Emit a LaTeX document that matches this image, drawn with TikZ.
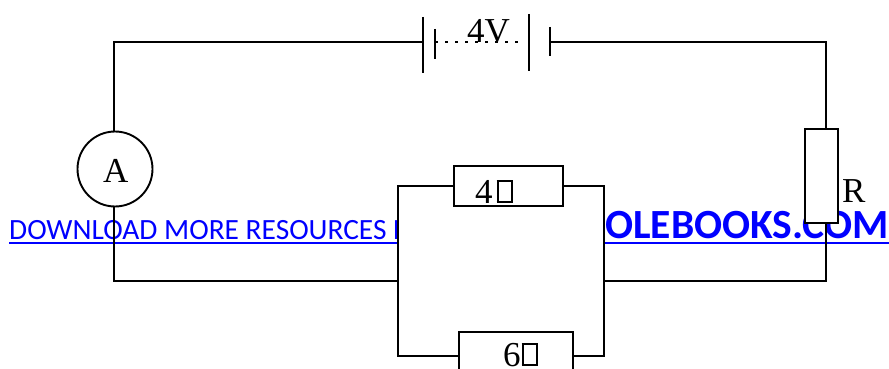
\documentclass[tikz,border=0pt]{standalone}
\usepackage{fontspec}
\setmainfont{Liberation Serif}
\newfontfamily\linkfont{Carlito}
\definecolor{linkblue}{HTML}{0000FF}
\newcommand{\tofu}[2]{{\setlength{\fboxsep}{0pt}\setlength{\fboxrule}{1.8pt}\raisebox{2pt}{\fbox{\rule{0pt}{#2}\rule{#1}{0pt}}}}}
\tikzset{
  wire/.style={draw=black,line width=1.9pt,line join=miter},
  res/.style={draw=black,fill=white,line width=1.9pt,rectangle,inner sep=0pt,minimum width=#1},
  val/.style={font=\fontsize{35}{35}\selectfont,inner sep=0pt,anchor=base west,text=black},
  link/.style={text=linkblue,inner sep=0pt,anchor=base west},
}
\begin{document}
\begin{tikzpicture}[x=1pt,y=-1pt]
\useasboundingbox (0,0) rectangle (889,369);
\clip (0,0) rectangle (889,369);
% link text behind the circuit
\begin{scope}
\clip (0,200) rectangle (398,260);
\node[link,font=\linkfont\fontsize{29.4}{29.4}\selectfont] (dl) at (9,239.5) {DOWNLOAD MORE RESOURCES L};
\end{scope}
\begin{scope}
\clip (604,200) rectangle (889,260);
\node[link,font=\linkfont\bfseries\fontsize{41.5}{41.5}\selectfont,anchor=base east] (ole) at (889,238) {OLEBOOKS.COM};
\end{scope}
\fill[linkblue] (9,241.8) rectangle (398,244.2);
\fill[linkblue] (604,241.8) rectangle (889,244.4);
% components
\node[circle,draw=black,fill=white,line width=1.9pt,inner sep=0pt,minimum size=75pt] (amm) at (115,169) {};
\node[val] (ammt) at (103,182) {A};
\node[res=33pt,minimum height=94pt] (rr) at (821.5,176) {};
\node[val] (rt) at (842,202) {R};
\node[res=109pt,minimum height=40pt] (r4) at (508.5,186) {};
\node[res=114pt,minimum height=48pt] (r6) at (516,356) {};
\node[val] (t4) at (475,203) {4\hspace{4pt}\tofu{12.5pt}{19.5pt}};
\node[val] (t6) at (503,366) {6\hspace{1pt}\tofu{12.5pt}{19.5pt}};
\node[val] (tb) at (467,43) {4V};
% junctions and corners
\coordinate (jl) at (398,281);
\coordinate (jr) at (604,281);
\coordinate (bl) at (423,42);
\coordinate (bi) at (435,42);
\coordinate (bk) at (525,42);
\coordinate (br) at (550,42);
% wires
\draw[wire] ([xshift=-1pt]amm.north) -- ([xshift=-1pt]amm.north |- bl) -- (bl);
\draw[wire] (br) -- (826,42) -- (826,129);
\draw[wire] ([xshift=-1pt]amm.south) -- ([xshift=-1pt]amm.south |- jl) -- (jl);
\draw[wire] (826,223) -- (826,281) -- (jr);
\draw[wire] (r4.west) -- (398,186) -- (398,356) -- (r6.west);
\draw[wire] (r4.east) -- (604,186) -- (604,356) -- (r6.east);
% battery
\draw[wire] (423,17) -- (423,73);
\draw[wire] (435,29) -- (435,59);
\draw[wire] (529,14) -- (529,71);
\draw[wire] (550,27) -- (550,56);
\draw[line width=1.5pt,dash pattern=on 3pt off 7pt] (bi) -- (bk);
\end{tikzpicture}
\end{document}
